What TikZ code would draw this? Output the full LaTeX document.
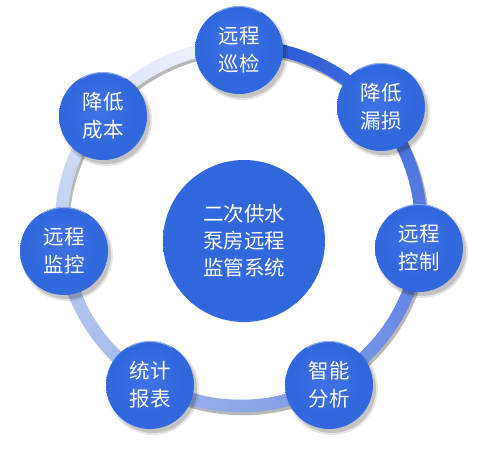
\documentclass[tikz,border=0pt]{standalone}
\usepackage{fontspec}
\usetikzlibrary{calc}
\newfontfamily\cjk{Noto Sans CJK SC}
\definecolor{cblue}{RGB}{50,104,222}
\definecolor{cdark}{RGB}{36,80,196}
\definecolor{clight}{RGB}{62,116,228}
\definecolor{ringblue}{RGB}{38,88,215}
\definecolor{ringwhite}{RGB}{245,247,252}
\pgfdeclareradialshading{bubbleshade}{\pgfpoint{-2bp}{5bp}}{color(0bp)=(clight); color(20bp)=(cblue); color(43bp)=(cblue); color(52bp)=(cdark)}
\pgfdeclareradialshading{hubshade}{\pgfpoint{0bp}{0bp}}{color(0bp)=(cblue); color(47bp)=(cblue); color(50bp)=(cblue!94!black)}
\tikzset{
  bubble/.style={circle, minimum size=88pt, inner sep=0pt, shading=bubbleshade,
    text=white, align=center, font=\cjk\fontsize{20.5}{28}\selectfont},
  hub/.style={circle, minimum size=162pt, inner sep=0pt, shading=hubshade,
    text=white, align=center, font=\cjk\fontsize{20.5}{27}\selectfont},
}
\begin{document}
\begin{tikzpicture}[x=1pt,y=-1pt]
\useasboundingbox (0,0) rectangle (484,458);
\coordinate (rc) at (241,226);
\coordinate (rs) at (243,229);
% ring shadow
\draw[line width=12.5pt, black, opacity=0.28] (rs) circle[radius=180];
% ring with conic gradient (clockwise from top)
\foreach \i in {0,...,179}{
  \pgfmathsetmacro\a{-90+2*\i}
  \pgfmathsetmacro\p{100*(1-\i/180)}
  \draw[line width=12.5pt, color=ringblue!\p!ringwhite]
    (rc) ++(\a:180) arc[start angle=\a, end angle=\a+2.4, radius=180];
}
% hub
\node[hub] (hub) at (244,241) {二次供水\\泵房远程\\监管系统};
% bubble shadows
\foreach \x/\y in {239/50,381/107,419/248,329/385,150/385,64/251,103/116}{
  \fill[black, opacity=0.10] (\x+3,\y+4) circle[radius=46];
  \fill[black, opacity=0.15] (\x+3,\y+4) circle[radius=44];
}
% bubbles
\node[bubble] (b1) at (239,50) {远程\\巡检};
\node[bubble] (b2) at (381,107) {降低\\漏损};
\node[bubble] (b3) at (419,248) {远程\\控制};
\node[bubble] (b4) at (329,385) {智能\\分析};
\node[bubble] (b5) at (150,385) {统计\\报表};
\node[bubble] (b6) at (64,251) {远程\\监控};
\node[bubble] (b7) at (103,116) {降低\\成本};
% top highlights
\foreach \n in {b1,b2,b3,b4,b5,b6,b7}{
  \draw[white, opacity=0.45, line width=1pt] (\n) ++(-120:43.5) arc[start angle=-120, end angle=-60, radius=43.5];
}
\end{tikzpicture}
\end{document}
